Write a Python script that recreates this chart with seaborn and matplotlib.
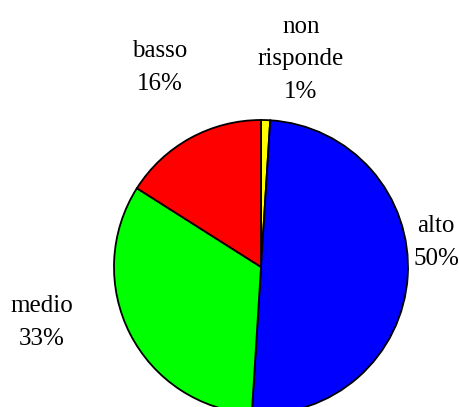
import matplotlib
matplotlib.use("Agg")
import matplotlib.pyplot as plt
import seaborn as sns

# dati
categorie = ["non\nrisponde", "alto", "medio", "basso"]
valori = [1, 50, 33, 16]
colori = ["#FFFF00", "#0000FF", "#00FF00", "#FF0000"]

sns.set_style("white")
plt.rcParams['font.family'] = ['Liberation Serif', 'DejaVu Serif']

W, H = 459, 407
fig = plt.figure(figsize=(W / 100, H / 100), dpi=100)
ax = fig.add_axes([0, 0, 1, 1])

# coordinate in pixel (y verso l'alto)
cx, cy, r = 261, H - 267, 147

wedges, _ = ax.pie(
    valori,
    colors=colori,
    startangle=90,
    counterclock=False,
    center=(cx, cy),
    radius=r,
    wedgeprops=dict(edgecolor="black", linewidth=1.3),
)
ax.set_xlim(0, W)
ax.set_ylim(0, H)
ax.set_aspect("equal")
ax.axis("off")

# etichette: (x centro, baseline ultima riga in pixel dall'alto)
pos_etichette = {
    "non\nrisponde": (301, 98),
    "alto": (436, 265),
    "medio": (42, 345),
    "basso": (160, 90),
}
for cat, val in zip(categorie, valori):
    x, yb = pos_etichette[cat]
    ax.text(x, H - yb, f"{cat}\n{val}%", ha="center", va="baseline",
            fontsize=18, linespacing=1.62, color="black")

fig.savefig("out.png", dpi=100)
